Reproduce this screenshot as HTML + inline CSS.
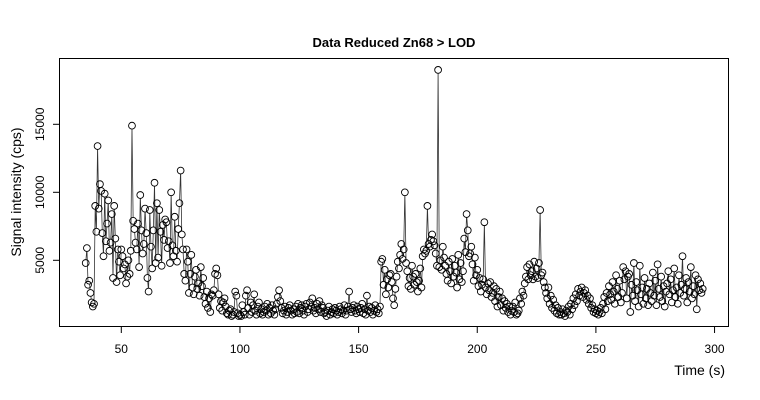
<!DOCTYPE html>
<html><head><meta charset="utf-8"><style>
html,body{margin:0;padding:0;background:#fff;}
svg{display:block;font-family:"Liberation Sans",Arial,sans-serif;}
</style></head><body>
<svg id="chart" width="760" height="400" viewBox="0 0 760 400" xmlns="http://www.w3.org/2000/svg">
<rect width="760" height="400" fill="#fff"/>
<text x="394" y="47" text-anchor="middle" font-size="13" font-weight="bold">Data Reduced Zn68 &gt; LOD</text>
<rect x="59.5" y="58.5" width="669" height="268" fill="none" stroke="#000" stroke-width="1"/>
<text transform="translate(21,192) rotate(-90)" text-anchor="middle" font-size="14">Signal intensity (cps)</text>
<text x="725" y="375" text-anchor="end" font-size="14">Time (s)</text>
<g id="axes"></g>
<g id="marks"></g>
</svg>
<script>
const tStart = 35;
const tStep = 0.5;
const values = [
4.8,5.9,3.2,3.5,2.6,1.9,1.6,1.8,9.0,7.1,13.4,8.8,10.6,10.1,7.0,5.3,9.9,6.4,7.7,9.4,
5.7,6.3,8.4,3.7,9.0,6.6,3.4,5.8,4.9,3.9,5.8,5.3,4.4,4.7,3.3,3.8,5.0,4.0,5.7,14.9,
7.9,7.3,6.3,5.8,7.7,4.5,9.8,7.2,5.5,6.2,8.8,7.0,3.7,2.7,8.7,6.0,4.4,7.2,10.7,4.8,
9.2,5.2,8.7,7.1,4.6,7.6,6.5,8.0,7.8,5.9,6.4,4.8,10.0,6.1,5.3,8.2,5.7,4.9,7.3,9.2,
11.6,6.9,5.8,4.0,3.5,5.8,4.9,2.6,4.0,5.4,3.0,2.5,3.8,4.3,2.9,3.3,2.4,4.5,3.1,3.7,
2.3,1.8,2.7,1.5,2.2,1.2,2.5,2.4,2.8,4.0,4.4,3.9,2.5,1.5,2.0,1.3,1.9,2.2,1.6,1.1,
1.0,1.3,1.4,0.9,1.0,1.2,2.7,2.4,1.1,0.9,1.0,0.9,1.7,1.2,1.0,2.4,2.8,1.5,1.0,1.9,
1.2,1.7,2.5,1.3,1.0,1.6,1.9,1.1,1.4,1.0,1.2,1.6,1.3,1.8,1.0,1.5,1.1,1.7,1.3,1.0,
1.4,1.8,2.3,2.8,2.0,1.5,1.1,1.3,1.6,1.0,1.2,1.5,1.7,1.3,1.0,1.4,1.1,1.6,1.2,1.8,
1.1,1.5,1.7,1.3,1.0,1.6,1.8,1.2,1.4,1.9,1.6,2.2,1.3,1.5,1.1,1.8,1.4,2.0,1.2,1.7,
1.5,1.1,1.2,0.9,1.3,1.6,1.0,1.2,1.4,1.1,1.5,1.3,1.0,1.2,1.6,1.4,1.1,1.3,1.7,1.0,
1.3,1.6,2.7,1.4,1.2,1.5,1.7,1.3,1.1,1.6,1.4,1.2,1.5,1.8,1.1,1.4,1.0,2.4,1.3,1.6,
1.2,1.5,1.0,1.3,1.7,1.2,1.4,1.1,1.6,4.9,5.1,3.2,4.3,2.5,3.6,3.0,3.9,4.0,3.4,2.2,
1.7,2.9,3.8,4.9,4.4,5.4,6.2,5.1,5.8,10.0,4.8,4.2,3.1,3.7,2.9,4.6,3.8,3.2,4.0,3.4,
2.7,3.5,4.4,3.0,5.3,5.8,5.5,5.7,9.0,6.2,6.0,6.5,6.9,6.4,6.1,5.5,4.6,19.0,4.5,5.0,
4.3,6.0,5.2,4.6,4.0,3.5,4.9,4.2,3.3,5.1,3.8,4.6,4.1,3.0,5.4,3.6,4.8,3.4,4.2,6.6,
5.6,8.4,7.2,5.3,5.5,6.0,4.7,3.5,5.2,3.9,4.3,3.1,3.7,2.7,3.2,3.6,7.8,3.0,2.5,3.3,
2.8,3.4,2.3,2.6,3.1,2.0,2.9,1.6,2.3,2.7,1.7,2.2,1.3,2.0,1.5,1.8,1.2,1.6,1.0,1.3,
1.6,1.2,1.9,1.0,1.1,1.3,2.2,1.8,2.7,2.4,3.3,3.8,4.5,3.6,4.7,3.9,4.2,3.6,4.9,3.8,
4.4,3.7,4.8,8.7,3.9,4.1,3.4,3.0,2.6,2.2,3.0,1.8,2.4,1.5,2.1,1.3,1.7,1.1,1.5,1.0,
1.2,1.0,1.4,1.1,0.9,1.3,1.2,1.6,1.0,1.8,1.4,2.2,1.7,2.5,2.0,2.9,2.4,2.7,3.0,2.3,
2.6,2.8,2.1,2.4,1.8,2.2,1.5,1.7,1.2,1.4,1.1,1.3,1.0,1.2,1.5,1.1,1.8,2.3,1.4,2.6,
2.0,3.1,2.5,2.1,3.4,2.7,1.8,3.9,2.9,2.3,3.5,1.9,2.6,4.5,3.6,4.2,2.2,3.8,4.0,1.2,
3.2,2.4,4.8,2.0,3.4,2.8,1.6,4.6,2.5,3.0,1.8,3.7,2.2,2.9,1.7,3.3,2.6,2.0,4.1,2.4,
3.5,1.7,4.7,2.9,2.3,3.8,2.0,3.1,1.6,2.7,3.3,4.2,2.5,3.6,1.9,2.8,4.4,2.3,3.0,1.8,
3.9,2.6,3.2,5.3,2.4,2.9,3.7,1.9,3.4,2.7,4.5,2.2,3.1,2.5,3.9,1.4,3.6,2.8,3.3,2.6,2.9
];
const xTicks = [50,100,150,200,250,300];
const yTicks = [5000,10000,15000];

const NS = "http://www.w3.org/2000/svg";
function xs(t){ return 121.3 + (t-50)*2.373; }
function ys(v){ return 328.3 - v*68/5000; }
function mk(tag, attrs, parent){
  const e = document.createElementNS(NS, tag);
  for (const k in attrs) e.setAttribute(k, attrs[k]);
  parent.appendChild(e);
  return e;
}
const axes = document.getElementById('axes');
const marks = document.getElementById('marks');

xTicks.forEach(t => {
  const l = mk('line', {x1:xs(t), x2:xs(t), y1:326.5, y2:333, stroke:'#000', 'stroke-width':1}, axes);
  
  
  const tx = mk('text', {x:xs(t), y:353, 'text-anchor':'middle', 'font-size':12}, axes);
  tx.textContent = t;
  
  
});
yTicks.forEach(v => {
  const l = mk('line', {x1:53, x2:59.5, y1:ys(v), y2:ys(v), stroke:'#000', 'stroke-width':1}, axes);
  
  
  const tx = mk('text', {'text-anchor':'middle', 'font-size':12, transform:'translate(44,'+ys(v)+') rotate(-90)'}, axes);
  tx.textContent = v;
  
  
});

const r = 3.4;
const pts = values.map((v,i) => [xs(tStart + i*tStep), ys(v*1000)]);
let d = '';
for (let i=1;i<pts.length;i++){
  const [x0,y0] = pts[i-1], [x1,y1] = pts[i];
  const dx = x1-x0, dy = y1-y0, L = Math.hypot(dx,dy);
  if (L <= 2*r) continue;
  const ux = dx/L, uy = dy/L;
  d += 'M'+(x0+ux*r).toFixed(2)+' '+(y0+uy*r).toFixed(2)+'L'+(x1-ux*r).toFixed(2)+' '+(y1-uy*r).toFixed(2);
}
const path = mk('path', {d:d, stroke:'#333', 'stroke-width':0.8, fill:'none'}, marks);


pts.forEach(p => {
  const c = mk('circle', {cx:p[0].toFixed(2), cy:p[1].toFixed(2), r:r, fill:'none', stroke:'#000', 'stroke-width':0.9}, marks);
  
  
});
</script>
</body></html>
